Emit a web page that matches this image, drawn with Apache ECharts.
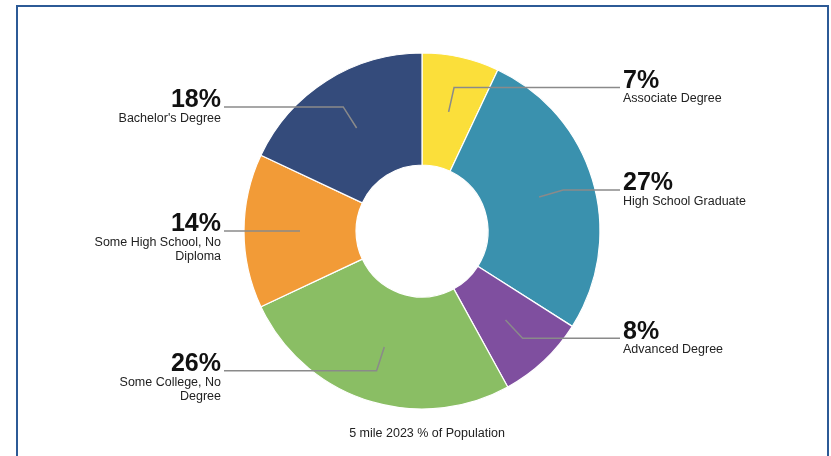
<!DOCTYPE html>
<html>
<head>
<meta charset="utf-8">
<title>Educational Attainment</title>
<script src="https://cdn.jsdelivr.net/npm/echarts@6/dist/echarts.min.js"></script>
<style>
  html, body { margin: 0; padding: 0; background: #ffffff; }
  #chart { width: 831px; height: 456px; }
</style>
</head>
<body>
<div id="chart"></div>
<script>
// Educational attainment, share of population within 5 miles (2023)
const categories = [
  'Associate Degree',
  'High School Graduate',
  'Advanced Degree',
  'Some College, No\nDegree',
  'Some High School, No\nDiploma',
  "Bachelor's Degree"
];
const shares = [7, 27, 8, 26, 14, 18];
const sliceColors = ['#fbdf3a', '#3a91ae', '#7f4f9f', '#8abe64', '#f29b37', '#344b7b'];
const chartTitle = '5 mile 2023 % of Population';

const chart = echarts.init(document.getElementById('chart'), null, { renderer: 'canvas' });

const CX = 422, CY = 231;
const R_OUT = 178, R_IN = 66;
const R_LINE = 122;           // label guide lines start mid-way through the ring
const LINE_REACH = 198;       // horizontal distance from centre to the end of each guide line
const TEXT_GAP = 3;
const FONT = '"Liberation Sans", Arial, Helvetica, sans-serif';

const ringData = categories.map((name, i) => ({
  name: name,
  value: shares[i],
  itemStyle: { color: sliceColors[i] }
}));

const labelData = categories.map((name, i) => ({
  name: name,
  value: shares[i]
}));

chart.setOption({
  animation: false,
  graphic: [{
    type: 'rect',
    shape: { x: 17, y: 6, width: 811, height: 480 },
    style: { fill: 'none', stroke: '#2c5a96', lineWidth: 2 },
    silent: true,
    z: 10
  }],
  title: {
    text: chartTitle,
    left: CX,
    textAlign: 'center',
    top: 422,
    textStyle: { fontFamily: FONT, fontSize: 12.5, fontWeight: 'normal', color: '#222222' }
  },
  series: [
    {
      name: 'ring',
      type: 'pie',
      center: [CX, CY],
      radius: [R_IN, R_OUT],
      startAngle: 90,
      clockwise: true,
      silent: true,
      z: 2,
      label: { show: false },
      labelLine: { show: false },
      itemStyle: { borderColor: '#ffffff', borderWidth: 1.2 },
      emphasis: { disabled: true },
      data: ringData
    },
    {
      name: 'labels',
      type: 'pie',
      center: [CX, CY],
      radius: [0, R_LINE],
      startAngle: 90,
      clockwise: true,
      silent: true,
      z: 3,
      avoidLabelOverlap: false,
      itemStyle: { color: 'rgba(0,0,0,0)', borderWidth: 0 },
      emphasis: { disabled: true },
      label: {
        show: true,
        position: 'outside',
        formatter: function (p) {
          return '{pct|' + p.value + '%}\n{name|' + p.name.split('\n').join('}\n{name|') + '}';
        },
        rich: {
          pct: { fontFamily: FONT, fontSize: 25, fontWeight: 'bold', color: '#111111', lineHeight: 22 },
          name: { fontFamily: FONT, fontSize: 12.5, color: '#222222', lineHeight: 14 }
        }
      },
      labelLine: {
        show: true,
        length: 25,
        length2: 10,
        smooth: false,
        lineStyle: { color: '#8a8a8a', width: 1.5 }
      },
      labelLayout: function (params) {
        const pts = params.labelLinePoints;
        if (!pts) return {};
        const isLeft = pts[1][0] < CX;
        const endX = isLeft ? CX - LINE_REACH : CX + LINE_REACH;
        pts[2][0] = endX;
        const lineY = pts[2][1];
        return {
          x: isLeft ? endX - TEXT_GAP : endX + TEXT_GAP,
          y: lineY - 17.5,
          align: isLeft ? 'right' : 'left',
          verticalAlign: 'top',
          labelLinePoints: pts
        };
      },
      data: labelData
    }
  ]
});
</script>
</body>
</html>
